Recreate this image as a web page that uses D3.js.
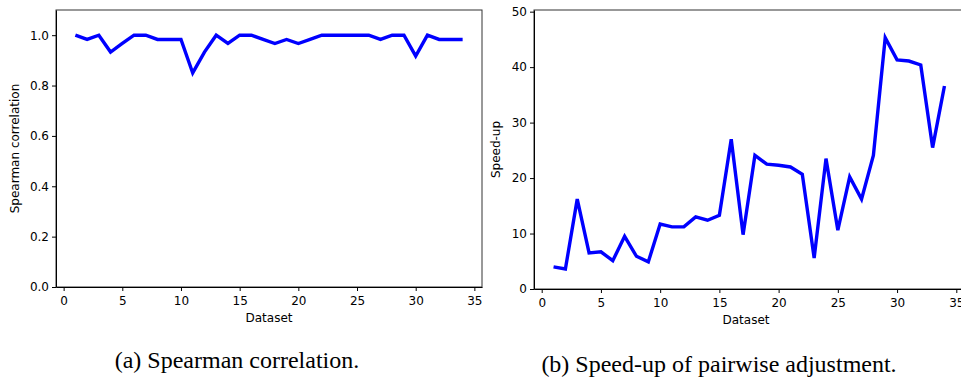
<!DOCTYPE html>
<html>
<head>
<meta charset="utf-8">
<script src="https://cdn.jsdelivr.net/npm/d3@7"></script>
<style>
  html, body { margin: 0; padding: 0; background: #fff; }
  svg { display: block; }
  .tick text { font-family: "DejaVu Sans", sans-serif; font-size: 12px; fill: #000; }
  .axis-label { font-family: "DejaVu Sans", sans-serif; font-size: 12px; fill: #000; }
  .caption { font-family: "Liberation Serif", "Times New Roman", serif; font-size: 24px; fill: #000; }
</style>
</head>
<body>
<svg id="chart" width="961" height="377"></svg>
<script>
// Datasets 1..34
const datasets = d3.range(1, 35);

// (a) Spearman correlation per dataset
const spearman = [
  1.0, 0.983, 1.0, 0.933, 0.967, 1.0, 1.0, 0.983, 0.983, 0.983,
  0.85, 0.933, 1.0, 0.967, 1.0, 1.0, 0.983, 0.967, 0.983, 0.967,
  0.983, 1.0, 1.0, 1.0, 1.0, 1.0, 0.983, 1.0, 1.0, 0.917,
  1.0, 0.983, 0.983, 0.983
];

// (b) Speed-up of pairwise adjustment per dataset
const speedup = [
  4.0, 3.6, 16.2, 6.5, 6.7, 5.1, 9.5, 5.9, 4.9, 11.7,
  11.2, 11.2, 13.0, 12.4, 13.3, 27.0, 9.8, 24.1, 22.5, 22.3,
  22.0, 20.7, 5.6, 23.5, 10.6, 20.2, 16.2, 24.1, 45.3, 41.3,
  41.1, 40.4, 25.5, 36.6
];

const xTicks = [0, 5, 10, 15, 20, 25, 30, 35];
const yTicksA = [0.0, 0.2, 0.4, 0.6, 0.8, 1.0];
const yTicksB = [0, 10, 20, 30, 40, 50];

const svg = d3.select('#chart');

// clip so the right panel is cut at the page edge like the reference
svg.append('defs').append('clipPath').attr('id', 'page')
  .append('rect').attr('x', 0).attr('y', 0).attr('width', 961).attr('height', 377);

function panel(opts) {
  const g = svg.append('g').attr('clip-path', 'url(#page)');

  const x = d3.scaleLinear().domain([-0.65, 35.65]).range([opts.left, opts.right]);
  const y = d3.scaleLinear().domain(opts.yDomain).range([opts.bottom, opts.top]);

  // frame
  g.append('rect')
    .attr('x', opts.left).attr('y', opts.top)
    .attr('width', opts.right - opts.left).attr('height', opts.bottom - opts.top)
    .attr('fill', 'none').attr('stroke', '#333').attr('stroke-width', 1);

  const xAxis = g.append('g')
    .attr('transform', `translate(0,${opts.bottom})`)
    .call(d3.axisBottom(x).tickValues(xTicks).tickFormat(d3.format('d')).tickSize(4).tickSizeOuter(0));
  xAxis.select('.domain').attr('stroke', '#000');
  xAxis.selectAll('.tick text').attr('dy', '0.95em');

  const yAxis = g.append('g')
    .attr('transform', `translate(${opts.left},0)`)
    .call(d3.axisLeft(y).tickValues(opts.yTicks).tickFormat(opts.yFormat).tickSize(4).tickSizeOuter(0));
  yAxis.select('.domain').attr('stroke', '#000');

  const line = d3.line()
    .x((d, i) => x(datasets[i]))
    .y(d => y(d));

  g.append('path')
    .datum(opts.values)
    .attr('fill', 'none')
    .attr('stroke', '#0000ff')
    .attr('stroke-width', 3.4)
    .attr('stroke-linejoin', 'miter')
    .attr('d', line);

  g.append('text')
    .attr('class', 'axis-label')
    .attr('x', (opts.left + opts.right) / 2 + opts.xLabelShift)
    .attr('y', opts.bottom + 35)
    .attr('text-anchor', 'middle')
    .text('Dataset');

  g.append('text')
    .attr('class', 'axis-label')
    .attr('transform', `translate(${opts.yLabelX},${(opts.top + opts.bottom) / 2}) rotate(-90)`)
    .attr('text-anchor', 'middle')
    .text(opts.yLabel);

  svg.append('text')
    .attr('class', 'caption')
    .attr('x', opts.captionX)
    .attr('y', opts.captionY)
    .attr('text-anchor', 'middle')
    .text(opts.caption);
}

panel({
  left: 56, right: 482, top: 10, bottom: 287,
  yDomain: [0, 1.1], yTicks: yTicksA, yFormat: d3.format('.1f'),
  values: spearman, yLabel: 'Spearman correlation', yLabelX: 19,
  xLabelShift: 0, caption: '(a) Spearman correlation.', captionX: 237, captionY: 368
});

panel({
  left: 534, right: 964, top: 10, bottom: 289,
  yDomain: [0, 50.3], yTicks: yTicksB, yFormat: d3.format('d'),
  values: speedup, yLabel: 'Speed-up', yLabelX: 500,
  xLabelShift: -3, caption: '(b) Speed-up of pairwise adjustment.', captionX: 719, captionY: 372
});
</script>
</body>
</html>
